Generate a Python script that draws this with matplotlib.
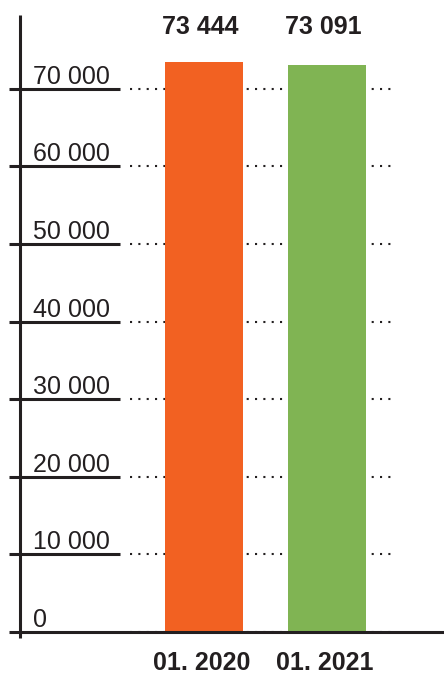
import matplotlib
matplotlib.use("Agg")
from matplotlib import pyplot as plt
import matplotlib.transforms as mtransforms

# data
categories = ["01. 2020", "01. 2021"]
values = [73444, 73091]
value_labels = ["73 444", "73 091"]
yticks = [0, 10000, 20000, 30000, 40000, 50000, 60000, 70000]
ytick_labels = ["0", "10 000", "20 000", "30 000", "40 000", "50 000", "60 000", "70 000"]
colors = ["#F26122", "#80B453"]

plt.rcParams["font.family"] = ["Liberation Sans", "DejaVu Sans"]
ink = "#231F20"

W, H = 444, 674
fig = plt.figure(figsize=(W / 100, H / 100), dpi=100)
ax = fig.add_axes([0, 0, 1, 1])
ax.set_axis_off()

# map pixels: category 0 centre at x=204px, 123px apart; y=0 at 632px from top, 77.6px per 10 000
px_x = 123.0
x0 = 204.0
ax.set_xlim(-x0 / px_x, (W - x0) / px_x)
py = 77.6 / 10000
y0 = H - 632
ax.set_ylim(-y0 / py, (H - y0) / py)

def fx(p):
    return p / W

blend = mtransforms.blended_transform_factory(ax.transAxes, ax.transData)

# dotted guide lines and solid tick lines
for t, lab in zip(yticks, ytick_labels):
    ax.plot([fx(130), fx(392)], [t, t], transform=blend, color=ink,
            lw=1.5, ls=(0, (1, 3)), zorder=1)
    if t > 0:
        ax.plot([fx(9), fx(120)], [t, t], transform=blend, color=ink,
                lw=2.2, solid_capstyle="butt", zorder=3)
    ax.annotate(lab, xy=(fx(33), t), xycoords=("axes fraction", "data"),
                xytext=(0, 5), textcoords="offset pixels",
                ha="left", va="baseline", fontsize=18, color=ink)

# bars
xs = list(range(len(categories)))
ax.bar(xs, values, width=78 / px_x, color=colors, zorder=2)

# axes lines
ax.plot([fx(9), 1.0], [0, 0], transform=blend, color=ink, lw=2.2,
        solid_capstyle="butt", zorder=3)
ax.plot([fx(20), fx(20)], [(H - 638) / H, (H - 15) / H], transform=ax.transAxes,
        color=ink, lw=2.2, solid_capstyle="butt", zorder=3)

xblend = mtransforms.blended_transform_factory(ax.transData, ax.transAxes)
for x, vl, cat in zip(xs, value_labels, categories):
    ax.text(x - 0.03, (H - 34) / H, vl, transform=xblend, ha="center",
            va="baseline", fontsize=18, fontweight="bold", color=ink)
    ax.text(x - 0.02, (H - 670) / H, cat, transform=xblend, ha="center",
            va="baseline", fontsize=18, fontweight="bold", color=ink)

fig.savefig("out.png", dpi=100)
